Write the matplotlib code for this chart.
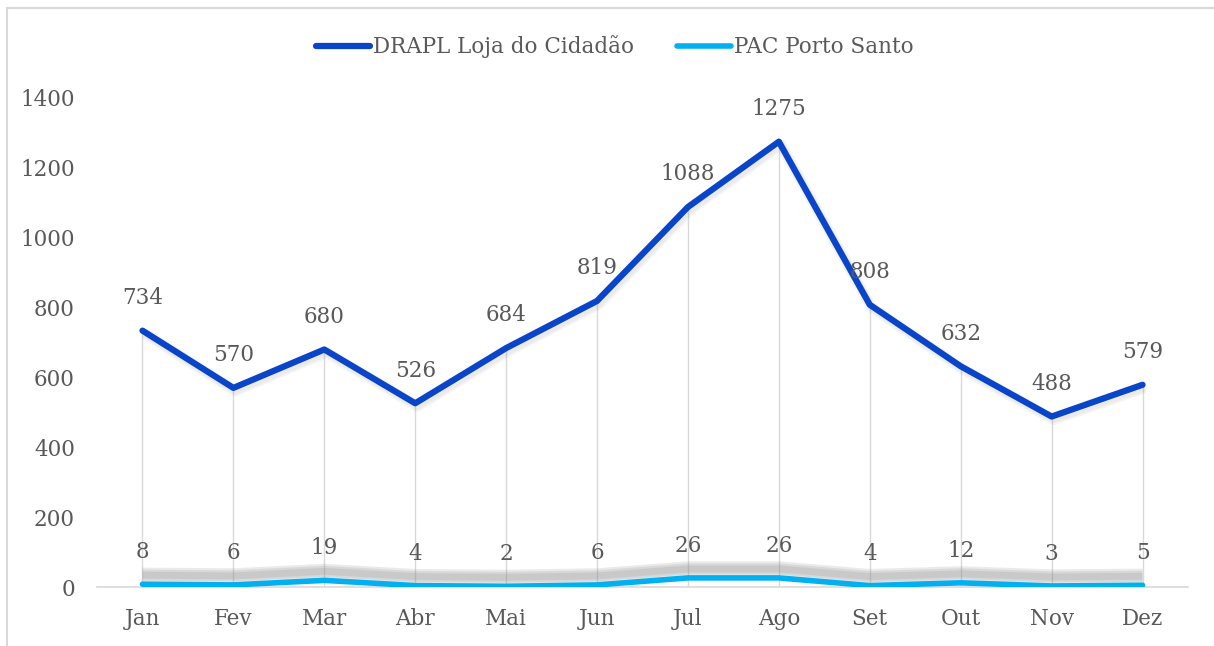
import matplotlib
matplotlib.use('Agg')
import matplotlib.pyplot as plt
import matplotlib.transforms as mtransforms
from matplotlib.lines import Line2D
import numpy as np

months = ['Jan', 'Fev', 'Mar', 'Abr', 'Mai', 'Jun', 'Jul', 'Ago', 'Set', 'Out', 'Nov', 'Dez']
drapl = [734, 570, 680, 526, 684, 819, 1088, 1275, 808, 632, 488, 579]
pac = [8, 6, 19, 4, 2, 6, 26, 26, 4, 12, 3, 5]
yticks = [0, 200, 400, 600, 800, 1000, 1200, 1400]

DARK_BLUE = '#0A45C9'
LIGHT_BLUE = '#00B0F0'
TEXT = '#595959'
GRID = '#D9D9D9'
FS = 15.5

plt.rcParams['font.family'] = ['DejaVu Serif']
plt.rcParams['font.size'] = FS


def shadow_line(ax, fig, x, y, dx, dy, widths, alpha, color='#808080'):
    # fake blurred shadow: stacked translucent strokes
    tr = mtransforms.offset_copy(ax.transData, fig=fig, x=dx, y=dy, units='dots')
    for w in widths:
        ax.plot(x, y, color=color, lw=w, alpha=alpha, transform=tr,
                solid_capstyle='butt', solid_joinstyle='round', zorder=2)


def main():
    fig = plt.figure(figsize=(12.14, 6.46), dpi=100)
    W, H = 1214, 646
    ax = fig.add_axes([97 / W, (H - 587) / H, (1188 - 97) / W, (587 - 98) / H])
    x = np.arange(len(months))

    # drop lines from the upper series
    ax.vlines(x, 0, drapl, color=GRID, lw=1.0, zorder=1)

    shadow_line(ax, fig, x, pac, 0, 9, [11, 8, 5], 0.16)
    shadow_line(ax, fig, x, drapl, 2, -3, [8, 5.5], 0.08)

    ax.plot(x, drapl, color=DARK_BLUE, lw=4.5, solid_capstyle='round',
            solid_joinstyle='round', zorder=4)
    ax.plot(x, pac, color=LIGHT_BLUE, lw=4.0, solid_capstyle='round',
            solid_joinstyle='round', zorder=4)

    for xi, v in zip(x, drapl):
        ax.annotate(str(v), (xi, v), xytext=(0, 23.5), textcoords='offset points',
                    ha='center', va='center', color=TEXT, fontsize=FS, zorder=5)
    for xi, v in zip(x, pac):
        ax.annotate(str(v), (xi, v), xytext=(0, 23), textcoords='offset points',
                    ha='center', va='center', color=TEXT, fontsize=FS, zorder=5)

    ax.set_xlim(-0.5, len(months) - 0.5)
    ax.set_ylim(0, 1400)
    ax.set_yticks(yticks)
    ax.set_xticks(x)
    ax.set_xticklabels(months)
    ax.tick_params(axis='both', length=0, colors=TEXT, labelsize=FS)
    ax.tick_params(axis='y', pad=16)
    ax.tick_params(axis='x', pad=15)
    for s in ['top', 'right', 'left']:
        ax.spines[s].set_visible(False)
    ax.spines['bottom'].set_color(GRID)
    ax.spines['bottom'].set_linewidth(1.2)
    ax.set_facecolor('none')

    handles = [Line2D([], [], color=DARK_BLUE, lw=4.5, solid_capstyle='round'),
               Line2D([], [], color=LIGHT_BLUE, lw=4.0, solid_capstyle='round')]
    fig.legend(handles, ['DRAPL Loja do Cidadão', 'PAC Porto Santo'],
               loc='center', bbox_to_anchor=(615 / W, 1 - 47 / H), ncol=2,
               frameon=False, fontsize=FS, labelcolor=TEXT, handlelength=2.5,
               handletextpad=0.15, columnspacing=2.0)

    # chart area border (top and left visible in the crop)
    fig.add_artist(Line2D([7 / W, 1], [1 - 8 / H, 1 - 8 / H], color=GRID, lw=1.5,
                          transform=fig.transFigure))
    fig.add_artist(Line2D([7 / W, 7 / W], [0, 1 - 8 / H], color=GRID, lw=1.5,
                          transform=fig.transFigure))

    fig.savefig('out.png', dpi=100, facecolor='white')
    plt.close(fig)


if __name__ == '__main__':
    main()
